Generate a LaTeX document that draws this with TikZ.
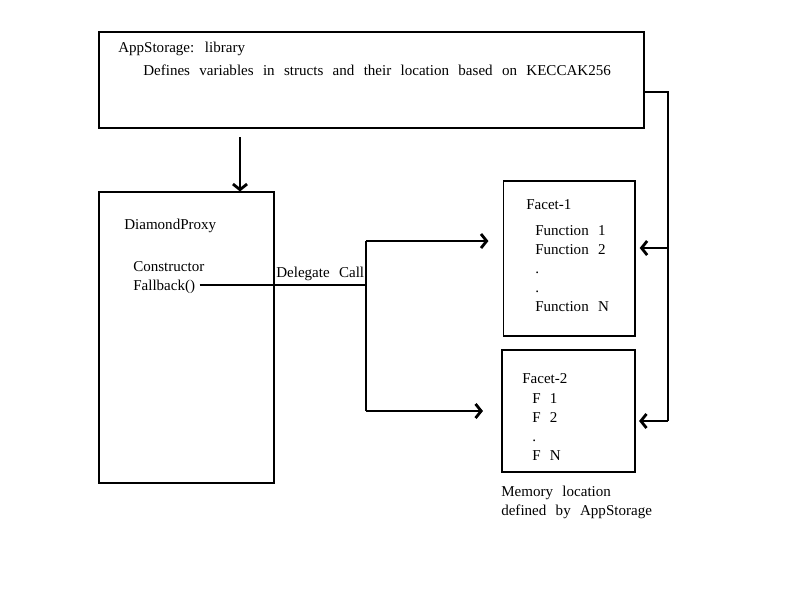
\documentclass[tikz,border=0pt]{standalone}
\usepackage{fontspec}
\setmainfont{Liberation Serif}
\usetikzlibrary{arrows.meta}
\newcommand\espaces{\spaceskip=0.62em\relax}

\begin{document}
\begin{tikzpicture}[x=0.025cm, y=-0.025cm]
\tikzset{boite/.style={draw, line width=1.4pt, inner sep=0pt},
  texte/.style={anchor=base west, inner sep=0pt, align=left,
    font=\fontsize{10.7}{13.47}\selectfont\espaces},
  fleche/.style={line width=2pt, -{Straight Barb[length=4pt, width=10pt]}}}
\useasboundingbox (0, 0) rectangle (800, 600);
\node[boite, minimum width=13.625cm, minimum height=2.4cm] (app) at (371.5, 80) {};
\node[boite, minimum width=4.375cm, minimum height=7.25cm] (proxy) at (186.5, 337.5) {};
\node[boite, minimum width=3.275cm, minimum height=3.875cm] (facetA) at (569, 258.25) {};
\node[boite, minimum width=3.325cm, minimum height=3.05cm] (facetB) at (568.75, 410.75) {};
% texts: multi-line nodes sit on their last line
\node[texte] (titreApp) at (118, 52) {AppStorage: library};
\node[texte] (descApp) at (143, 75) {Defines variables in structs and their location based on KECCAK256};
\node[texte] (titreProxy) at (124, 229) {DiamondProxy};
\node[texte] (constr) at (133, 271) {Constructor};
\node[texte] (fallback) at (133, 290) {Fallback()};
\node[texte] (delegate) at (276, 277) {Delegate Call};
\node[texte] (titreA) at (526, 209) {Facet-1};
\node[texte] (listeA) at (535, 311) {Function 1\\Function 2\\.\\.\\Function N};
\node[texte] (titreB) at (522, 383) {Facet-2};
\node[texte] (listeB) at (532, 460) {F 1\\F 2\\.\\F N};
\node[texte] (memoire) at (501, 515) {Memory location\\defined by AppStorage};
\coordinate (dep) at (240, 137);
\coordinate (haut) at (366, 241);
\coordinate (bas) at (366, 411);
\coordinate (coin) at (668, 92);
\coordinate (droitA) at (668, 248);
\coordinate (droitB) at (668, 421);
\draw[fleche] (dep) -- (dep |- proxy.north);
\draw[line width=1.2pt] ([xshift=3pt, yshift=1pt]fallback.east) -- ([yshift=1pt]fallback.east -| haut);
\draw[line width=2pt] (haut) -- (bas);
\draw[fleche, shorten >=10pt] (haut) -- (haut -| facetA.west);
\draw[fleche, shorten >=13pt] (bas) -- (bas -| facetB.west);
\draw[line width=2pt] (app.east |- coin) -- (coin) -- (droitB);
\draw[fleche, shorten >=3pt] (droitA) -- (droitA -| facetA.east);
\draw[fleche, shorten >=2pt] (droitB) -- (droitB -| facetB.east);
\end{tikzpicture}
\end{document}
